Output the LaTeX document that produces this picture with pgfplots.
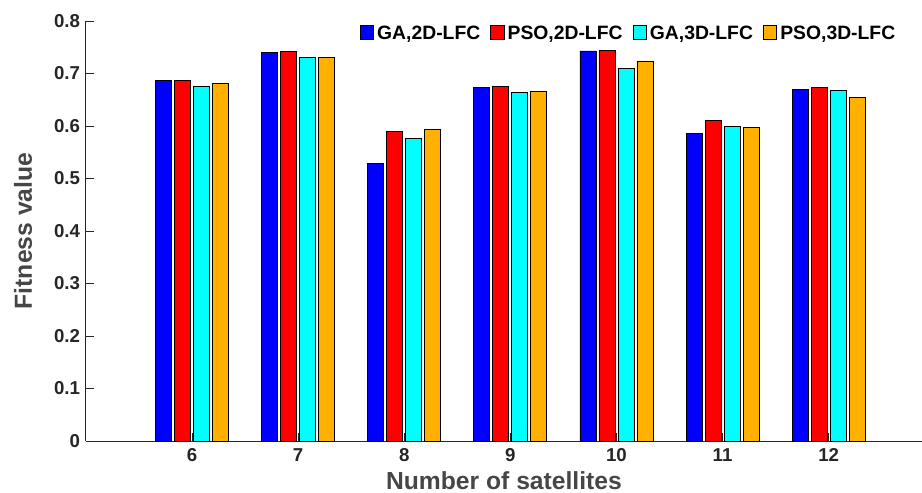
\documentclass[border=0pt]{standalone}
\usepackage{pgfplots}
\pgfplotsset{compat=1.18}
\usepackage{fontspec}
\setmainfont{Liberation Sans}
\definecolor{cblue}{RGB}{0,0,255}
\definecolor{cred}{RGB}{255,0,0}
\definecolor{ccyan}{RGB}{0,255,255}
\definecolor{corange}{RGB}{255,176,0}
\definecolor{tickc}{RGB}{38,38,38}
\definecolor{labc}{RGB}{70,70,70}
\begin{document}
\begin{tikzpicture}
\begin{axis}[
  scale only axis, width=627pt, height=315pt,
  xmin=5, xmax=12.88, ymin=0, ymax=0.8,
  axis lines*=left,
  axis line style={tickc, line width=0.75pt},
  ybar=2.25pt, bar width=12pt,
  xtick={6,7,8,9,10,11,12},
  ytick={0,0.1,0.2,0.3,0.4,0.5,0.6,0.7,0.8},
  yticklabels={0,0.1,0.2,0.3,0.4,0.5,0.6,0.7,0.8},
  tick align=inside, major tick length=6pt,
  tick style={tickc, line width=0.6pt},
  /pgf/number format/assume math mode=true,
  ticklabel style={font=\fontsize{14}{16}\selectfont\bfseries, text=tickc},
  xticklabel style={yshift=-2pt},
  yticklabel style={xshift=-1pt},
  xlabel={Number of satellites},
  ylabel={Fitness value},
  label style={font=\fontsize{18.5}{21}\selectfont\bfseries, text=labc},
  xlabel style={yshift=-0.5pt},
  ylabel style={yshift=9.5pt},
  legend columns=4,
  legend style={draw=none, fill=none, at={(0.968,0.99)}, anchor=north east,
    inner sep=0pt, outer sep=0pt,
    font=\fontsize{14.5}{16}\selectfont\bfseries,
    /tikz/every odd column/.append style={column sep=2.5pt},
    /tikz/every even column/.append style={column sep=7.5pt},
    nodes={inner sep=0pt}},
  legend image code/.code={\draw[#1, draw=black, line width=0.5pt] (0pt,-4pt) rectangle (10pt,6pt);},
]
\addplot[fill=cblue, draw=black, line width=0.6pt] coordinates {(6,0.686) (7,0.740) (8,0.528) (9,0.674) (10,0.743) (11,0.585) (12,0.669)};
\addplot[fill=cred, draw=black, line width=0.6pt] coordinates {(6,0.686) (7,0.742) (8,0.590) (9,0.675) (10,0.744) (11,0.611) (12,0.674)};
\addplot[fill=ccyan, draw=black, line width=0.6pt] coordinates {(6,0.676) (7,0.731) (8,0.577) (9,0.664) (10,0.709) (11,0.600) (12,0.667)};
\addplot[fill=corange, draw=black, line width=0.6pt] coordinates {(6,0.681) (7,0.731) (8,0.594) (9,0.665) (10,0.724) (11,0.598) (12,0.654)};
\legend{GA{,}2D-LFC, PSO{,}2D-LFC, GA{,}3D-LFC, PSO{,}3D-LFC}
\end{axis}
\pgfresetboundingbox
\useasboundingbox (-64.5pt,-39pt) rectangle (627pt,330.75pt);
\end{tikzpicture}
\end{document}
